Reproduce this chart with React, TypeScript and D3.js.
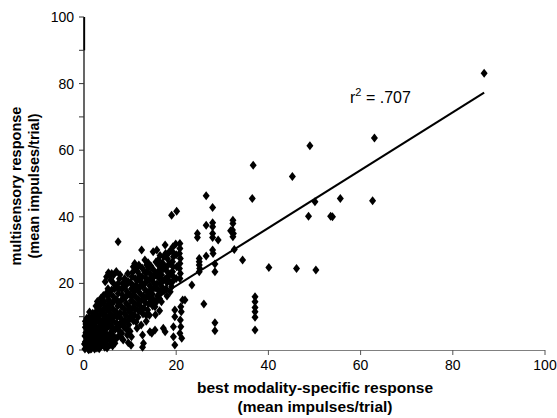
import React from "react";
import * as d3 from "d3";

// ---------- data (best modality-specific response, multisensory response) ----------
const clusterPoints: [number, number][] = [
  [0.2,0.3],[0.5,1.2],[0.3,2.5],[0.8,0.5],[0.6,3.8],[0.4,5.2],[0.9,2],[1.1,4.5],[0.7,6.5],[0.6,9.5],[1.2,1],[1.3,3],[1.0,7.5],[1.4,5.8],[0.2,4.2],[0.1,1.8],
  [1.6,0.4],[1.8,2.2],[2.0,3.6],[1.7,5],[2.2,6.4],[1.9,8],[2.4,1.2],[2.3,4.4],[2.1,9.2],[2.5,7.2],[1.5,6.8],[2.6,2.8],
  [2.8,0.6],[3.0,2],[3.2,3.8],[2.9,5.5],[3.3,7],[3.1,8.8],[3.4,10.4],[2.7,11.6],[3.5,5],[3.6,1.2],[3.0,12.5],
  [3.8,2.8],[4.0,4.5],[4.2,6.2],[3.9,7.8],[4.3,9.4],[4.1,11],[4.4,12.6],[3.7,13.8],[4.5,0.8],[4.6,2],[4.8,17],[4.0,15.4],
  [4.7,5],[5.0,6.8],[5.2,8.4],[4.9,10],[5.3,11.8],[5.1,13.4],[5.4,15],[5.0,16.4],[4.6,20.5],[5.3,23.2],[5.5,3.5],[5.6,1.5],
  [5.8,5.2],[6.0,7],[6.2,8.8],[5.9,10.6],[6.3,12.2],[6.1,14],[6.4,16],[6.0,18],[6.0,23],[6.4,22.5],[5.6,22.4],[6.5,3],
  [6.7,2],[6.8,6.2],[7.0,8],[7.2,9.8],[6.9,11.5],[7.3,13.2],[7.1,15],[7.4,17],[7.4,20],[6.9,18.8],[7.4,32.5],[7.5,4.2],
  [7.7,5.6],[7.9,7.6],[8.1,9.4],[7.8,11.2],[8.2,13],[8.0,14.8],[8.3,16.6],[8.1,18.4],[8.4,20],[8.5,3],[7.8,22.6],
  [8.7,6.8],[8.9,8.6],[9.1,10.4],[8.8,12.2],[9.2,14],[9.0,15.8],[9.3,17.6],[9.1,19.4],[9.6,2.2],[9.4,4.5],[8.8,21.5],
  [9.7,7.6],[9.9,9.4],[10.1,11.2],[9.8,13],[10.2,14.8],[10.0,16.6],[10.3,18.4],[10.1,20.2],[10.3,4],[10.4,22],[10.7,25],[10.2,1.4],
  [10.7,8.8],[10.9,10.6],[11.1,12.4],[10.8,14.2],[11.2,16],[11.0,17.8],[11.3,19.6],[11.1,21.5],[11.4,24.5],[11.5,6.5],
  [11.7,9.8],[11.9,11.6],[12.1,13.4],[11.8,15.2],[12.2,17],[12.0,18.8],[12.3,20.6],[12.1,22.4],[11.9,25.5],[12.5,30],[12.4,7.5],
  [12.7,4.5],[12.7,0.8],[12.9,2],[12.8,10.8],[13.0,12.6],[13.2,14.4],[12.9,16.2],[13.3,18],[13.1,19.8],[13.4,21.6],[13.2,23.4],[13.6,25.5],[13.5,8.6],
  [13.8,12],[14.0,13.8],[14.2,15.6],[13.9,17.4],[14.3,19.2],[14.1,21],[14.4,22.8],[14.0,24.6],[14.3,5.5],[13.9,26.2],
  [14.7,5],[14.9,13.2],[15.1,15],[14.8,16.8],[15.2,18.6],[15.0,20.4],[15.3,22.2],[15.1,24],[15.4,6],[15.0,29.5],[15.5,10.6],
  [15.8,30],[15.7,14.4],[15.9,16.2],[16.1,18],[15.8,19.8],[16.2,21.6],[16.0,23.4],[16.3,25.2],[16.1,27],[16.4,11.8],
  [16.7,17.2],[16.9,19],[17.1,20.8],[16.8,22.6],[17.2,24.4],[17.0,26.2],[17.3,28],[17.6,31.5],[17.2,6.5],[17.6,5.5],[16.8,14.5],
  [17.8,18.4],[18.0,20.2],[18.2,22],[17.9,23.8],[18.3,25.6],[18.1,27.4],[18.4,29.2],[18.0,16.2],
  [19.3,31],[19.2,29.5],[19.4,28],[19.2,26.5],[19.3,25],[19.2,23.5],[19.4,22],[19.2,20.5],[19.0,19],[19.7,12],[19.7,10],[19.4,7],[19.4,4],[19.7,1.5],[18.7,17.5],
  [20.8,32],[20.8,30.5],[20.7,29],[20.9,27.5],[20.8,26],[20.7,24.5],[20.9,23],[20.8,21.5],[21.4,15],[21.0,13],[21.1,11.5],[20.9,9],[21.0,7],[20.8,5],[21.2,3.5],[21.9,15],
];

const clusterFillPoints: [number, number][] = [
  [0.4,7.8],[1.2,8.6],[1.5,2.2],[0.9,3.4],[1.3,0.2],
  [2.2,10.4],[1.9,11],[2.6,5.6],[2.3,0.3],[2.7,8.6],
  [3.3,13.6],[3.6,11.8],[3.4,8.4],[3.6,6.2],[2.9,14.6],
  [4.4,14.5],[4.2,16.4],[4.5,7.6],[4.6,10.4],[4.3,3.2],
  [5.6,16.8],[5.2,18.4],[5.5,12.6],[5.6,9.4],[5.0,4.2],[4.9,22],
  [6.6,14.8],[6.6,18.4],[6.3,20.2],[6.6,10.2],[6.2,5.8],[5.8,21],
  [7.6,14.2],[7.5,18.4],[7.7,21.4],[7.6,10.6],[7.2,6.8],[7.0,23.6],
  [8.6,15.4],[8.6,18.8],[8.7,11],[8.4,7.4],[8.2,5],
  [9.6,16.8],[9.6,20.6],[9.6,12],[9.5,8.6],[9.3,6],[9.5,23],
  [10.6,16.4],[10.6,19.4],[10.6,12.6],[10.5,10],[10.6,23.4],[10.0,5.6],
  [11.6,18],[11.6,21],[11.6,13.8],[11.3,8.4],[11.6,23.6],[11.0,26],
  [12.6,19.2],[12.6,22],[12.5,15],[12.4,11.8],[12.6,24.6],
  [13.6,20.6],[13.6,16],[13.7,23.4],[13.5,10.4],[13.2,27],
  [14.6,21.6],[14.6,18],[14.5,25.2],[14.6,14.4],[14.2,10.4],
  [15.6,22.6],[15.6,18.6],[15.6,26.4],[15.4,13],
  [16.6,24],[16.6,20],[16.5,28.4],[16.4,15.4],
  [17.6,25],[17.6,21.4],[17.7,29],[17.4,17.8],
  [18.7,26],[18.7,23],[18.7,29.8],[18.6,20.6],
  [20.0,28.6],[20.1,25],[20.0,21.5],[19.9,31.8],
];

const originFillPoints: [number, number][] = [
  [0.3,6.8],[0.9,5.4],[1.5,4],[2.0,1.4],[1.1,9.8],[1.6,9.4],[2.5,11],[2.9,9.8],[3.5,9],[2.6,4.2],
  [3.9,5.8],[3.1,6.2],[1.8,7],[3.6,3],[4.8,6.3],[4.4,8.5],[0.3,8.6],[2.6,13.2],[3.7,15.6],[4.9,12.2],
  [1.2,11.4],[5.6,7.2],[6.3,4.4],[7.0,3.4],[8.0,3.9],[3.3,0.4],[4.0,1.6],[5.0,0.6],[5.8,2.6],[6.2,1.2],
  [1.0,0.1],[4.9,2.8],
];

const midPoints: [number, number][] = [
  [23.4,19.5],[24.6,35],[24.6,33.8],[25.0,27.5],[25.0,26.5],[25.0,25.5],[25.1,24.5],[25.0,23.5],[26.0,13.8],[26.5,37.5],[26.5,46.3],[26.5,28.2],
  [27.9,42.8],[27.9,38.2],[27.9,37.0],[27.9,35.0],[27.9,33.8],[27.9,30.0],[28.0,29.0],[29.1,33],[28.4,25.8],[28.4,23.5],[28.4,8.2],[28.4,5.8],
  [32.3,39],[32.3,38],[32.2,36],[32.4,35],[32.3,34],[31.8,35.8],[32.6,30.2],[34.4,27],
  [37.1,16],[37.1,14.5],[37.1,12.8],[37.1,11.5],[37.1,9.8],[37.1,6],[36.7,55.5],[36.5,45.5],[40.1,24.8],[19.0,40.5],[20.1,41.7],
];

const outlierPoints: [number, number][] = [
  [45.2,52.1],[49.0,61.3],[63.0,63.7],[50.1,44.5],[55.6,45.5],[62.6,44.8],[48.7,40.2],[53.5,40.2],[53.9,40.0],[46.1,24.5],[50.3,24.0],[86.8,83.1],
];

const regressionIntercept = 1.94;
const regressionSlope = 0.868;
const regressionXRange = [0, 86.8];

const xTickValues = [0, 20, 40, 60, 80, 100];
const yTickLabels = [0, 20, 40, 60, 80, 100];
const yTickMarks = [0, 10, 20, 30, 40, 50, 60, 70, 80, 90, 100];

const xLabelLines = ["best modality-specific response", "(mean impulses/trial)"];
const yLabelLines = ["multisensory response", "(mean impulses/trial)"];

// ---------- layout ----------
const W = 557, H = 418;
const FONT = "'Liberation Sans', Arial, Helvetica, sans-serif";

export default function App() {
  const x = d3.scaleLinear().domain([0, 100]).range([84, 545]);
  const y = d3.scaleLinear().domain([0, 100]).range([350, 17]);
  const all = [...clusterPoints, ...clusterFillPoints, ...originFillPoints, ...midPoints, ...outlierPoints];
  const diamond = "M0,-4.5L3.5,0L0,4.5L-3.5,0Z";
  const line = d3
    .line<number>()
    .x((d) => x(d))
    .y((d) => y(regressionIntercept + regressionSlope * d));

  return (
    <svg
      width={W}
      height={H}
      style={{ position: "absolute", left: 0, top: 0, background: "#fff" }}
      fontFamily={FONT}
    >
      {/* x axis */}
      <line x1={x(0)} x2={x(100)} y1={y(0) + 0.5} y2={y(0) + 0.5} stroke="#808080" strokeWidth={1.2} />
      {xTickValues.map((t) => (
        <g key={"xt" + t}>
          {t > 0 && (
            <line x1={x(t)} x2={x(t)} y1={y(0)} y2={y(0) + 5} stroke="#555" strokeWidth={1} />
          )}
          <text x={x(t)} y={370} textAnchor="middle" fontSize={14} fill="#000">
            {t}
          </text>
        </g>
      ))}
      {/* y axis */}
      <line x1={x(0)} x2={x(0)} y1={y(0)} y2={y(100)} stroke="#000" strokeWidth={1.2} />
      <line x1={x(0) + 0.3} x2={x(0) + 0.3} y1={y(90)} y2={y(100)} stroke="#000" strokeWidth={1.7} />
      {yTickMarks.map((t) => (
        <line key={"ym" + t} x1={x(0) - 5} x2={x(0)} y1={y(t)} y2={y(t)} stroke="#333" strokeWidth={1} />
      ))}
      {yTickLabels.map((t) => (
        <text key={"yl" + t} x={74} y={y(t) + 5} textAnchor="end" fontSize={14} fill="#000">
          {t}
        </text>
      ))}

      {/* regression line */}
      <path d={line(regressionXRange) || ""} stroke="#000" strokeWidth={2} fill="none" />

      {/* points */}
      {all.map((p, i) => (
        <path key={i} d={diamond} transform={`translate(${x(p[0])},${y(p[1])})`} fill="#000" />
      ))}

      {/* r² annotation */}
      <text x={350} y={103} fontSize={16} fill="#000">
        r<tspan fontSize={11} dy={-7}>2</tspan>
        <tspan dy={7}> = .707</tspan>
      </text>

      {/* axis titles */}
      <text x={315} y={393} textAnchor="middle" fontSize={15.5} fontWeight="bold">
        {xLabelLines[0]}
      </text>
      <text x={315} y={412} textAnchor="middle" fontSize={15.5} fontWeight="bold">
        {xLabelLines[1]}
      </text>
      <text transform="translate(21,186) rotate(-90)" textAnchor="middle" fontSize={14.5} fontWeight="bold">
        {yLabelLines[0]}
      </text>
      <text transform="translate(39,186) rotate(-90)" textAnchor="middle" fontSize={14.5} fontWeight="bold">
        {yLabelLines[1]}
      </text>
    </svg>
  );
}
